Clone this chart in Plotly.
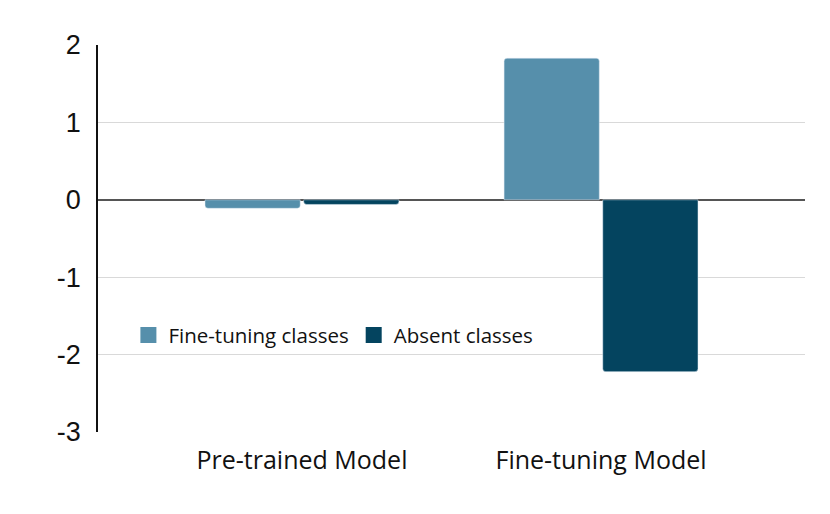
import plotly.graph_objects as go

categories = ["Pre-trained Model", "Fine-tuning Model"]
fine_tuning_classes = [-0.11, 1.83]
absent_classes = [-0.06, -2.22]
y_ticks = [2, 1, 0, -1, -2, -3]
series_names = ["Fine-tuning classes", "Absent classes"]
series_colors = ["#568fab", "#04445f"]

fig = go.Figure()
for name, vals, col in zip(series_names, [fine_tuning_classes, absent_classes], series_colors):
    fig.add_trace(go.Bar(name=name, x=categories, y=vals, showlegend=False,
                         marker=dict(color=col, cornerradius=3)))
for name, col in zip(series_names, series_colors):
    fig.add_trace(go.Scatter(name=name, x=[None], y=[None], mode="markers",
                             marker=dict(symbol="square", size=16, color=col),
                             showlegend=True))

fig.update_layout(
    width=830, height=514,
    margin=dict(l=98, r=25, t=45, b=82),
    paper_bgcolor="white", plot_bgcolor="white",
    barmode="group", bargap=0.34, bargroupgap=0.035,
    legend=dict(orientation="h", x=0.043, y=0.25, xanchor="left", yanchor="middle",
                font=dict(family="Open Sans", size=20.5, color="#111"),
                bgcolor="rgba(0,0,0,0)", itemsizing="trace", itemwidth=30,
                tracegroupgap=0),
    xaxis=dict(range=[-0.682, 1.682], showgrid=False, showline=False, ticks="",
               ticklabelstandoff=11,
               tickfont=dict(family="Open Sans", size=25, color="#111")),
    yaxis=dict(range=[-3, 2], tickvals=y_ticks, ticktext=[str(v) for v in y_ticks],
               showgrid=True, gridcolor="#d9d9d9", gridwidth=1,
               zeroline=True, zerolinecolor="#555", zerolinewidth=1.5,
               showline=True, linecolor="#111", linewidth=1.5,
               ticks="", ticklabelstandoff=10,
               tickfont=dict(family="Liberation Sans", size=27, color="#111")),
)
fig.write_html("out.html", config={"displayModeBar": False},
               post_script="document.body.style.margin='0';")
